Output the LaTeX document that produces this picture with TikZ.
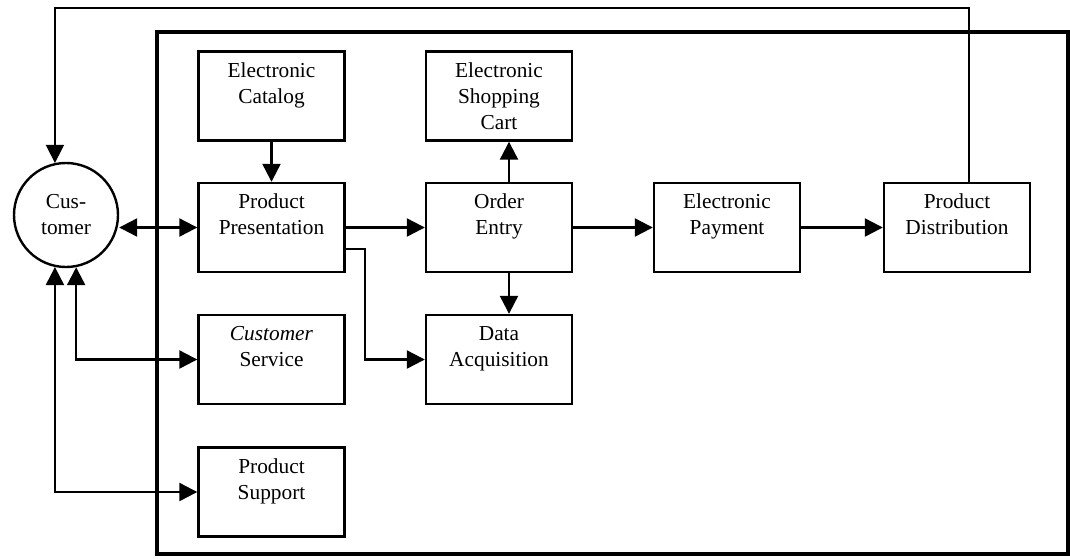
\documentclass[tikz,border=0pt]{standalone}
\usepackage{fontspec}
\setmainfont{Liberation Serif}
\usepackage{tikz}
\usetikzlibrary{arrows.meta}
\tikzset{
  blk/.style={draw, line width=1.8pt, minimum width=109.5pt, minimum height=66.75pt, inner sep=0pt, align=center},
  arr/.style={line width=1.7pt, -{Triangle[length=13.5pt,width=13.5pt]}},
  dbl/.style={line width=1.7pt, {Triangle[length=13.5pt,width=13.5pt]}-{Triangle[length=13.5pt,width=13.5pt]}},
  txt/.style={font=\fontsize{16pt}{19.5pt}\selectfont}
}

\begin{document}
\begin{tikzpicture}[x=0.75pt, y=-0.75pt, txt]
        \useasboundingbox (0,0) rectangle (1070,558);
        \draw[line width=3pt] (157,32) rectangle (1068,554);
        \node[draw, circle, line width=1.8pt, minimum size=78pt, inner sep=0pt, align=center] (cust) at (66,215) {Cus-\\tomer};
        \node[blk] (ec) at (271.5,96) {Electronic\\Catalog\\\mbox{}};
        \node[blk] (pp) at (271.5,227.5) {Product\\Presentation\\\mbox{}};
        \node[blk] (cart) at (499,96) {Electronic\\Shopping\\Cart};
        \node[blk] (oe) at (499,227.5) {Order\\Entry\\\mbox{}};
        \node[blk] (ep) at (727,227.5) {Electronic\\Payment\\\mbox{}};
        \node[blk] (pd) at (957,227.5) {Product\\Distribution\\\mbox{}};
        \node[blk] (cs) at (271.5,359.5) {\textit{Customer}\\Service\\\mbox{}};
        \node[blk] (da) at (499,359.5) {Data\\Acquisition\\\mbox{}};
        \node[blk] (ps) at (271.5,492) {Product\\Support\\\mbox{}};
        \coordinate (fb) at (0,8);
        \draw[arr] (ec) -- (pp);
        \draw[arr] ([xshift=7.5pt]oe.north) -- ([xshift=7.5pt]cart.south);
        \draw[arr] ([xshift=7.5pt]oe.south) -- ([xshift=7.5pt]da.north);
        \draw[arr] (pp) -- (oe);
        \draw[arr] (oe) -- (ep);
        \draw[arr] (ep) -- (pd);
        \draw[arr] ([yshift=-16pt]pp.east) -- ++(19,0) |- (da.west);
        \draw[arr, line width=1.2pt] ([xshift=9pt]pd.north) |- (cust.102 |- fb) -- (cust.102);
        \draw[dbl] (pp.west) -- (pp.west -| cust.east);
        \draw[dbl] (cs.west) -| (cust.-79);
        \draw[dbl] (ps.west) -| (cust.-102);
      \end{tikzpicture}
\end{document}
